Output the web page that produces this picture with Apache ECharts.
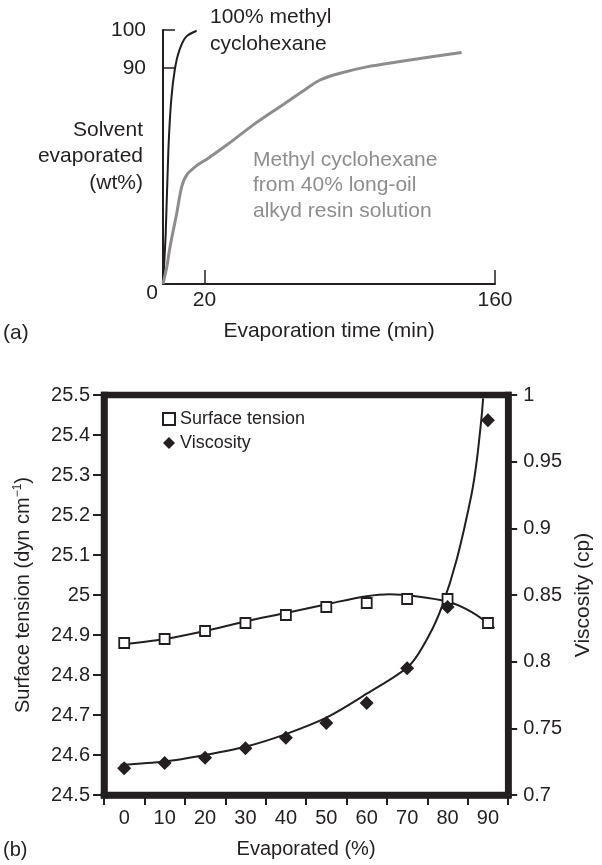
<!DOCTYPE html>
<html>
<head>
<meta charset="utf-8">
<script src="https://cdn.jsdelivr.net/npm/echarts@6/dist/echarts.min.js"></script>
<style>
  html, body { margin: 0; padding: 0; background: #fff; }
  #chart { width: 602px; height: 865px; }
</style>
</head>
<body>
<div id="chart"></div>
<script>
// (a) evaporation curves, time in min / solvent evaporated in wt%
const pureTime = [0, 1.3, 2.6, 4.0, 5.8, 7.9, 11.1, 16.2]
const pureWt = [0, 21, 56, 77, 90, 94.7, 98.2, 99.8]
const resinTime = [0, 1.8, 3.4, 6.6, 9.0, 11.4, 16.2, 21.1, 30.7, 43.5, 56.4, 69.3, 75.7, 85.3, 98.2, 114.2, 130.3, 143.9]
const resinWt = [0, 7, 15.5, 29.4, 40.5, 45.4, 49.3, 52, 57.9, 66.3, 73.9, 81.5, 85, 87.8, 90.3, 91.7, 93, 94.1]
const timeTicks = [20, 160]
const wtTicks = [90, 100]

// (b) surface tension and viscosity against % evaporated
const evapPct = [0, 10, 20, 30, 40, 50, 60, 70, 80, 90]
const surfaceTension = [24.88, 24.89, 24.91, 24.93, 24.95, 24.97, 24.98, 24.99, 24.99, 24.93]
const viscosity = [0.72, 0.724, 0.728, 0.735, 0.743, 0.754, 0.769, 0.795, 0.841, 0.981]
// fitted curves as drawn
const stFitX = [-0.9, 10, 20, 30, 40, 51, 60, 65.7, 71.3, 80.2, 86, 91.6]
const stFitY = [24.876, 24.89, 24.91, 24.934, 24.955, 24.979, 24.997, 25.002, 24.998, 24.983, 24.957, 24.917]
const viFitX = [-0.9, 10, 20, 30, 40, 50, 60, 70.5, 75.4, 78.7, 82.3, 85.9, 87.2, 88.4, 88.8]
const viFitY = [0.7226, 0.7251, 0.730, 0.7362, 0.7457, 0.758, 0.776, 0.797, 0.8196, 0.842, 0.877, 0.925, 0.95, 0.983, 0.9975]
const pctTicks = [-5, 5, 15, 25, 35, 45, 55, 65, 75, 85, 95]

const ink = "#231f20"
const grey = "#8d8d8d"
const font = "Liberation Sans, Arial, sans-serif"

// the top of the (a) axis is stretched above 90
const stretch = 3.8 / 2.4
const toAxis = (v) => v <= 90 ? v : 90 + (v - 90) * stretch
const fromAxis = (a) => a <= 90 ? a : 90 + (a - 90) / stretch
const zip = (xs, ys, f) => xs.map((x, i) => [x, f ? f(ys[i]) : ys[i]])

const chart = echarts.init(document.getElementById("chart"))

const frame = { show: true, onZero: false, lineStyle: { color: ink, width: 6.5, cap: "square" } }

const option = {
  animation: false,
  textStyle: { fontFamily: font, color: ink },
  grid: [
    { left: 163, top: 30, width: 332, height: 254 },
    { left: 104, top: 395, width: 409, height: 400, show: true, borderColor: ink, borderWidth: 6.5, backgroundColor: "transparent" }
  ],
  xAxis: [
    {
      type: "value", gridIndex: 0, min: 0, max: 160,
      name: "Evaporation time (min)", nameLocation: "middle", nameGap: 37,
      nameTextStyle: { fontSize: 21, color: ink, fontFamily: font },
      axisLine: { show: true, onZero: false, lineStyle: { color: ink, width: 2 } },
      axisTick: { show: true, inside: true, length: 14, customValues: timeTicks, lineStyle: { color: ink, width: 1.5 } },
      axisLabel: { customValues: timeTicks, fontSize: 21, color: ink, margin: 6, fontFamily: font },
      splitLine: { show: false }
    },
    {
      type: "value", gridIndex: 1, min: -5, max: 95,
      name: "Evaporated (%)", nameLocation: "middle", nameGap: 44,
      nameTextStyle: { fontSize: 20, color: ink, fontFamily: font },
      axisLine: frame,
      axisTick: { show: true, length: 10, customValues: pctTicks, lineStyle: { color: ink, width: 2 } },
      axisLabel: { customValues: evapPct, fontSize: 20, color: ink, margin: 13, fontFamily: font },
      splitLine: { show: false }
    }
  ],
  yAxis: [
    {
      type: "value", gridIndex: 0, min: 0, max: toAxis(100),
      axisLine: { show: true, onZero: false, lineStyle: { color: ink, width: 2 } },
      axisTick: { show: true, inside: true, length: 12, customValues: wtTicks.map(toAxis), lineStyle: { color: ink, width: 1.5 } },
      axisLabel: {
        customValues: wtTicks.map(toAxis), fontSize: 21, color: ink, margin: 17, fontFamily: font,
        formatter: (v) => String(Math.round(fromAxis(v)))
      },
      splitLine: { show: false }
    },
    {
      type: "value", gridIndex: 1, min: 24.5, max: 25.5, interval: 0.1,
      name: "Surface tension (dyn cm{sup|−1})", nameLocation: "middle", nameGap: 70, nameRotate: 90,
      nameTextStyle: { fontSize: 20, color: ink, fontFamily: font, rich: { sup: { fontSize: 12, verticalAlign: "top", padding: [0, 0, 10, 0], color: ink } } },
      axisLine: frame,
      axisTick: { show: true, length: 11, lineStyle: { color: ink, width: 2 } },
      axisLabel: { fontSize: 20, color: ink, margin: 14, fontFamily: font },
      splitLine: { show: false }
    },
    {
      type: "value", gridIndex: 1, min: 0.7, max: 1, interval: 0.05, position: "right",
      name: "Viscosity (cp)", nameLocation: "middle", nameGap: 62, nameRotate: 90,
      nameTextStyle: { fontSize: 21, color: ink, fontFamily: font },
      axisLine: frame,
      axisTick: { show: true, length: 9, lineStyle: { color: ink, width: 2 } },
      axisLabel: { fontSize: 20, color: ink, margin: 15, fontFamily: font },
      splitLine: { show: false }
    }
  ],
  legend: {
    data: ["Surface tension", "Viscosity"],
    orient: "vertical", left: 162, top: 410, padding: 0, itemGap: 6,
    itemWidth: 12, itemHeight: 12,
    textStyle: { fontSize: 18, color: ink, fontFamily: font }
  },
  series: [
    {
      type: "line", xAxisIndex: 0, yAxisIndex: 0, data: zip(pureTime, pureWt, toAxis),
      showSymbol: false, smooth: 0.3, lineStyle: { color: ink, width: 2 }
    },
    {
      type: "line", xAxisIndex: 0, yAxisIndex: 0, data: zip(resinTime, resinWt, toAxis),
      showSymbol: false, smooth: 0.3, lineStyle: { color: grey, width: 3 }
    },
    {
      type: "line", xAxisIndex: 1, yAxisIndex: 1, data: zip(stFitX, stFitY),
      showSymbol: false, smooth: 0.3, lineStyle: { color: ink, width: 2 }, z: 3
    },
    {
      type: "line", xAxisIndex: 1, yAxisIndex: 2, data: zip(viFitX, viFitY),
      showSymbol: false, smooth: 0.3, lineStyle: { color: ink, width: 2 }, z: 3
    },
    {
      name: "Surface tension", type: "scatter", xAxisIndex: 1, yAxisIndex: 1,
      data: zip(evapPct, surfaceTension), symbol: "rect", symbolSize: 10,
      itemStyle: { color: "#fff", borderColor: ink, borderWidth: 1.8, opacity: 1 }, z: 4
    },
    {
      name: "Viscosity", type: "scatter", xAxisIndex: 1, yAxisIndex: 2,
      data: zip(evapPct, viscosity), symbol: "diamond", symbolSize: 14,
      itemStyle: { color: ink, opacity: 1 }, z: 4
    }
  ],
  graphic: [
    { type: "text", x: 210, y: 4, style: { text: "100% methyl\ncyclohexane", fontSize: 21, fontFamily: font, fill: ink, lineHeight: 27 } },
    { type: "text", x: 143, y: 117, style: { text: "Solvent\nevaporated\n(wt%)", fontSize: 21, fontFamily: font, fill: ink, lineHeight: 26.3, align: "right" } },
    { type: "text", x: 253, y: 147, style: { text: "Methyl cyclohexane\nfrom 40% long-oil\nalkyd resin solution", fontSize: 21, fontFamily: font, fill: grey, lineHeight: 25.5 } },
    { type: "text", x: 152, y: 293, style: { text: "0", fontSize: 21, fontFamily: font, fill: ink, align: "center", verticalAlign: "middle" } },
    { type: "text", x: 3, y: 333, style: { text: "(a)", fontSize: 21, fontFamily: font, fill: ink, verticalAlign: "middle" } },
    { type: "text", x: 3, y: 850, style: { text: "(b)", fontSize: 20, fontFamily: font, fill: ink, verticalAlign: "middle" } }
  ]
}

chart.setOption(option)
</script>
</body>
</html>
